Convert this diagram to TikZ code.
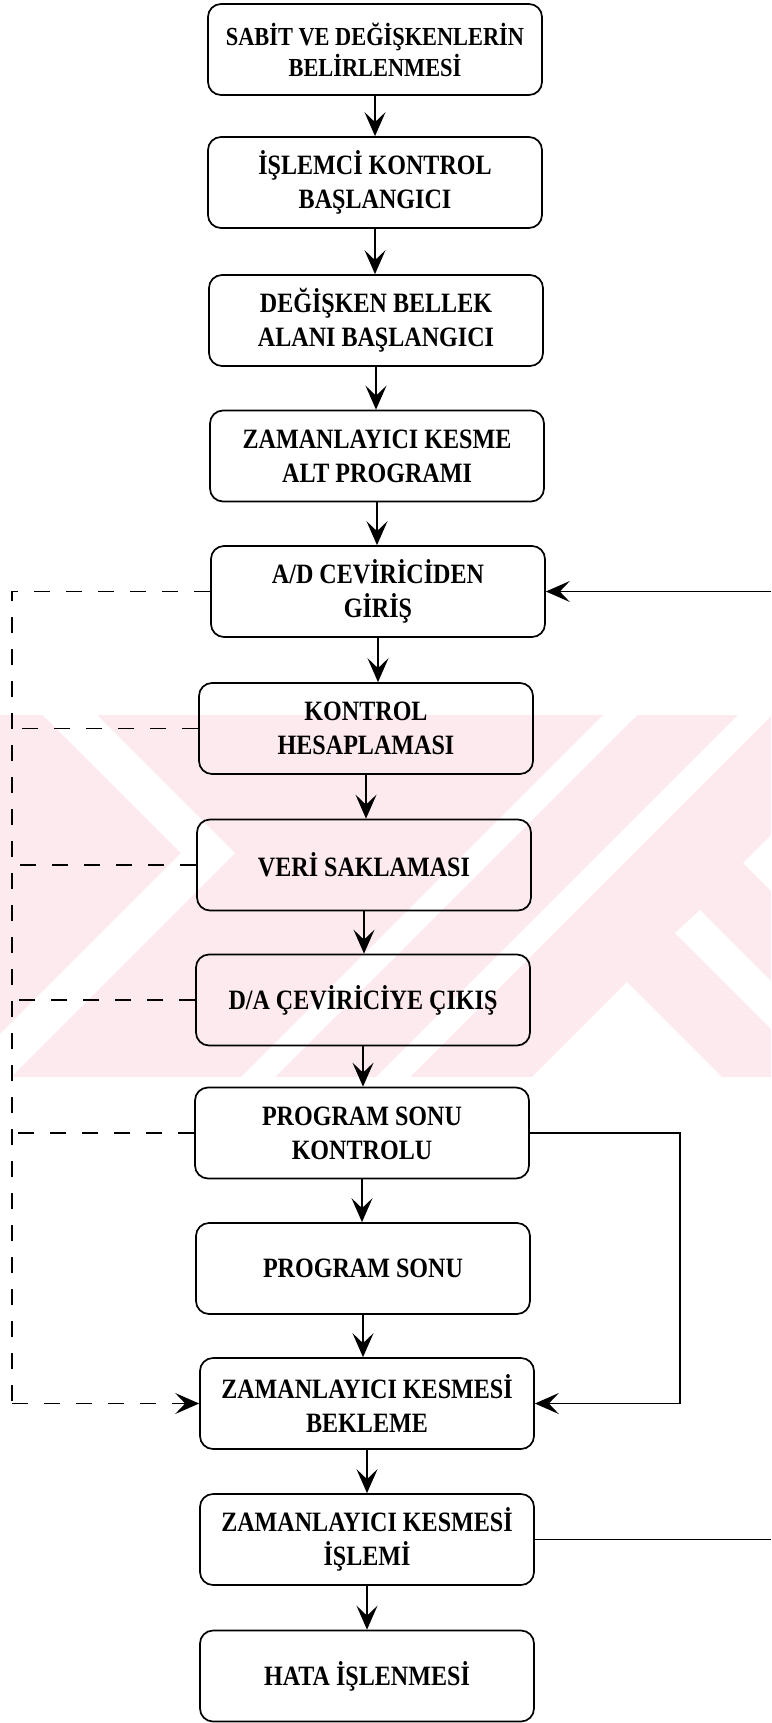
\documentclass[tikz,border=0pt]{standalone}
\usepackage{fontspec}
\setmainfont{Liberation Serif}
\newfontfamily\boxfont{Liberation Serif}[FakeStretch=0.86]
\usetikzlibrary{arrows.meta}
\definecolor{wmpink}{RGB}{253,234,238}
\tikzset{
  box/.style={draw, line width=1.7pt, rounded corners=13pt,
    minimum width=334pt, minimum height=91pt, inner sep=0pt,
    align=center, font=\boxfont\fontsize{28}{34}\selectfont\bfseries},
  smalltext/.style={font=\boxfont\fontsize{26}{31}\selectfont\bfseries},
  tip/.style={-{Stealth[length=24pt,width=21pt,inset=10pt]}},
  flow/.style={line width=1.7pt, tip},
  link/.style={line width=1.7pt},
  fb/.style={line width=1.7pt, dash pattern=on 16pt off 16pt},
}
\begin{document}
\begin{tikzpicture}[x=1pt,y=-1pt]
\useasboundingbox (0,0) rectangle (771,1723);

% faint background emblem
\fill[wmpink] (0,715) rectangle (771,1077);
\fill[white] (603,715) -- (637,715) -- (275,1077) -- (241,1077) -- cycle;
\fill[white] (738,715) -- (771,715) -- (771,716) -- (410,1077) -- (376,1077) -- cycle;
\fill[white] (627,982) -- (722,1077) -- (532,1077) -- cycle;
\fill[white] (700,910) -- (771,981) -- (771,1029) -- (675,933) -- cycle;
\fill[white] (771,835) -- (743,863) -- (771,891) -- cycle;
\fill[white] (43,715) -- (97,715) -- (235,853) -- (11,1077) -- (0,1077) -- (0,1034) -- (181,853) -- cycle;

% process steps
\node[box,smalltext] (n1) at (375,49.5) {SABİT VE DEĞİŞKENLERİN\\BELİRLENMESİ};
\node[box] (n2)  at (375,182.5)  {İŞLEMCİ KONTROL\\BAŞLANGICI};
\node[box] (n3)  at (376,320.5)  {DEĞİŞKEN BELLEK\\ALANI BAŞLANGICI};
\node[box] (n4)  at (377,456)    {ZAMANLAYICI KESME\\ALT PROGRAMI};
\node[box] (n5)  at (378,591.5)  {A/D CEVİRİCİDEN\\GİRİŞ};
\node[box] (n6)  at (366,728.5)  {KONTROL\\HESAPLAMASI};
\node[box] (n7)  at (364,865)    {VERİ SAKLAMASI};
\node[box] (n8)  at (363,1000)   {D/A ÇEVİRİCİYE ÇIKIŞ};
\node[box] (n9)  at (362,1133)   {PROGRAM SONU\\KONTROLU};
\node[box] (n10) at (363,1268.5) {PROGRAM SONU};
\node[box] (n11) at (367,1403.5) {ZAMANLAYICI KESMESİ\\BEKLEME};
\node[box] (n12) at (367,1539.5) {ZAMANLAYICI KESMESİ\\İŞLEMİ};
\node[box] (n13) at (367,1676)   {HATA İŞLENMESİ};

% main sequence
\foreach \a/\b in {n1/n2,n2/n3,n3/n4,n4/n5,n5/n6,n6/n7,n7/n8,n8/n9,n9/n10,n10/n11,n11/n12,n12/n13}
  \draw[flow] (\a.south) -- (\a.south |- \b.north);

% dashed bypass on the left
\coordinate (dtop) at (12,591.5);
\coordinate (dbot) at (12,1403.5);
\draw[fb] (n5.west) -- (dtop) -- (dbot);
\foreach \n in {n6,n7,n8,n9}
  \draw[fb] (\n.west) -- (\n.west -| dtop);
\draw[fb, tip] (dbot) -- (n11.west);

% solid links on the right
\coordinate (rin) at (771,591.5);
\coordinate (rx) at (680,1133);
\coordinate (rout) at (771,1539.5);
\draw[flow] (rin) -- (n5.east);
\draw[flow] (n9.east) -- (rx) -- (rx |- n11.east) -- (n11.east);
\draw[link] (n12.east) -- (rout);
\end{tikzpicture}
\end{document}
